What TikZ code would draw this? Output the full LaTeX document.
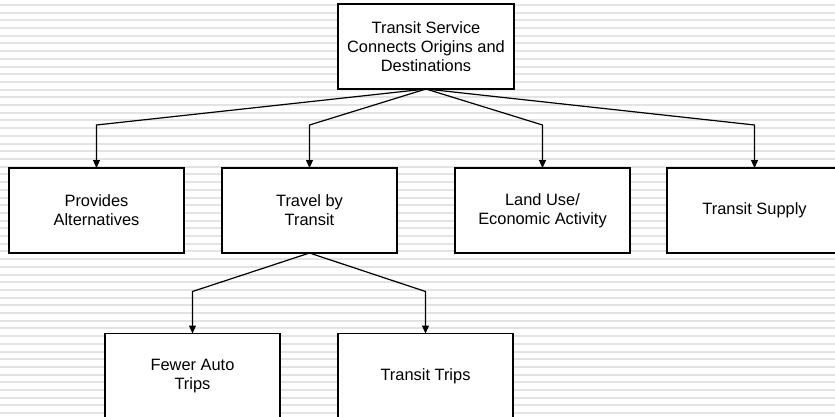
\documentclass[tikz,border=0pt]{standalone}
\usepackage{fontspec}
\setmainfont{Liberation Sans}
\usetikzlibrary{arrows.meta}

\begin{document}
\begin{tikzpicture}[
  x=1pt, y=-1pt,
  font=\fontsize{16.4}{19}\selectfont,
  line width=1.2pt,
  MyBox/.style={draw, fill=white, align=center, minimum width=175pt,
                minimum height=85pt, inner sep=2pt, outer sep=0pt},
  MyArrow/.style={-{Triangle[length=8pt, width=7pt]}},
  ]
\useasboundingbox (0,0) rectangle (835,417);
% striped background
\foreach \i in {0,...,53}
  \draw [line width=2pt, gray!22] (0,5+7.7*\i) -- (835,5+7.7*\i);

\node [MyBox, minimum width=176pt] (top) at (426,46.5)
      {Transit Service\\Connects Origins and\\Destinations};

\node [MyBox] (alt)    at (96.5,210.5)  {Provides\\Alternatives};
\node [MyBox] (travel) at (309.5,210.5) {Travel by\\Transit};
\node [MyBox] (land)   at (542.5,210.5) {Land Use/\\Economic Activity};
\node [MyBox] (supply) at (754.5,210.5) {Transit Supply};

\node [MyBox] (fewer)  at (192.5,376) {Fewer Auto\\Trips};
\node [MyBox] (trips)  at (425.5,376) {Transit Trips};

\foreach \n in {alt,travel,land,supply}
  \draw [MyArrow] (top.south) -- ([yshift=43pt]\n.north) -- (\n.north);

\foreach \n in {fewer,trips}
  \draw [MyArrow] (travel.south) -- ([yshift=42pt]\n.north) -- (\n.north);
\end{tikzpicture}
\end{document}
